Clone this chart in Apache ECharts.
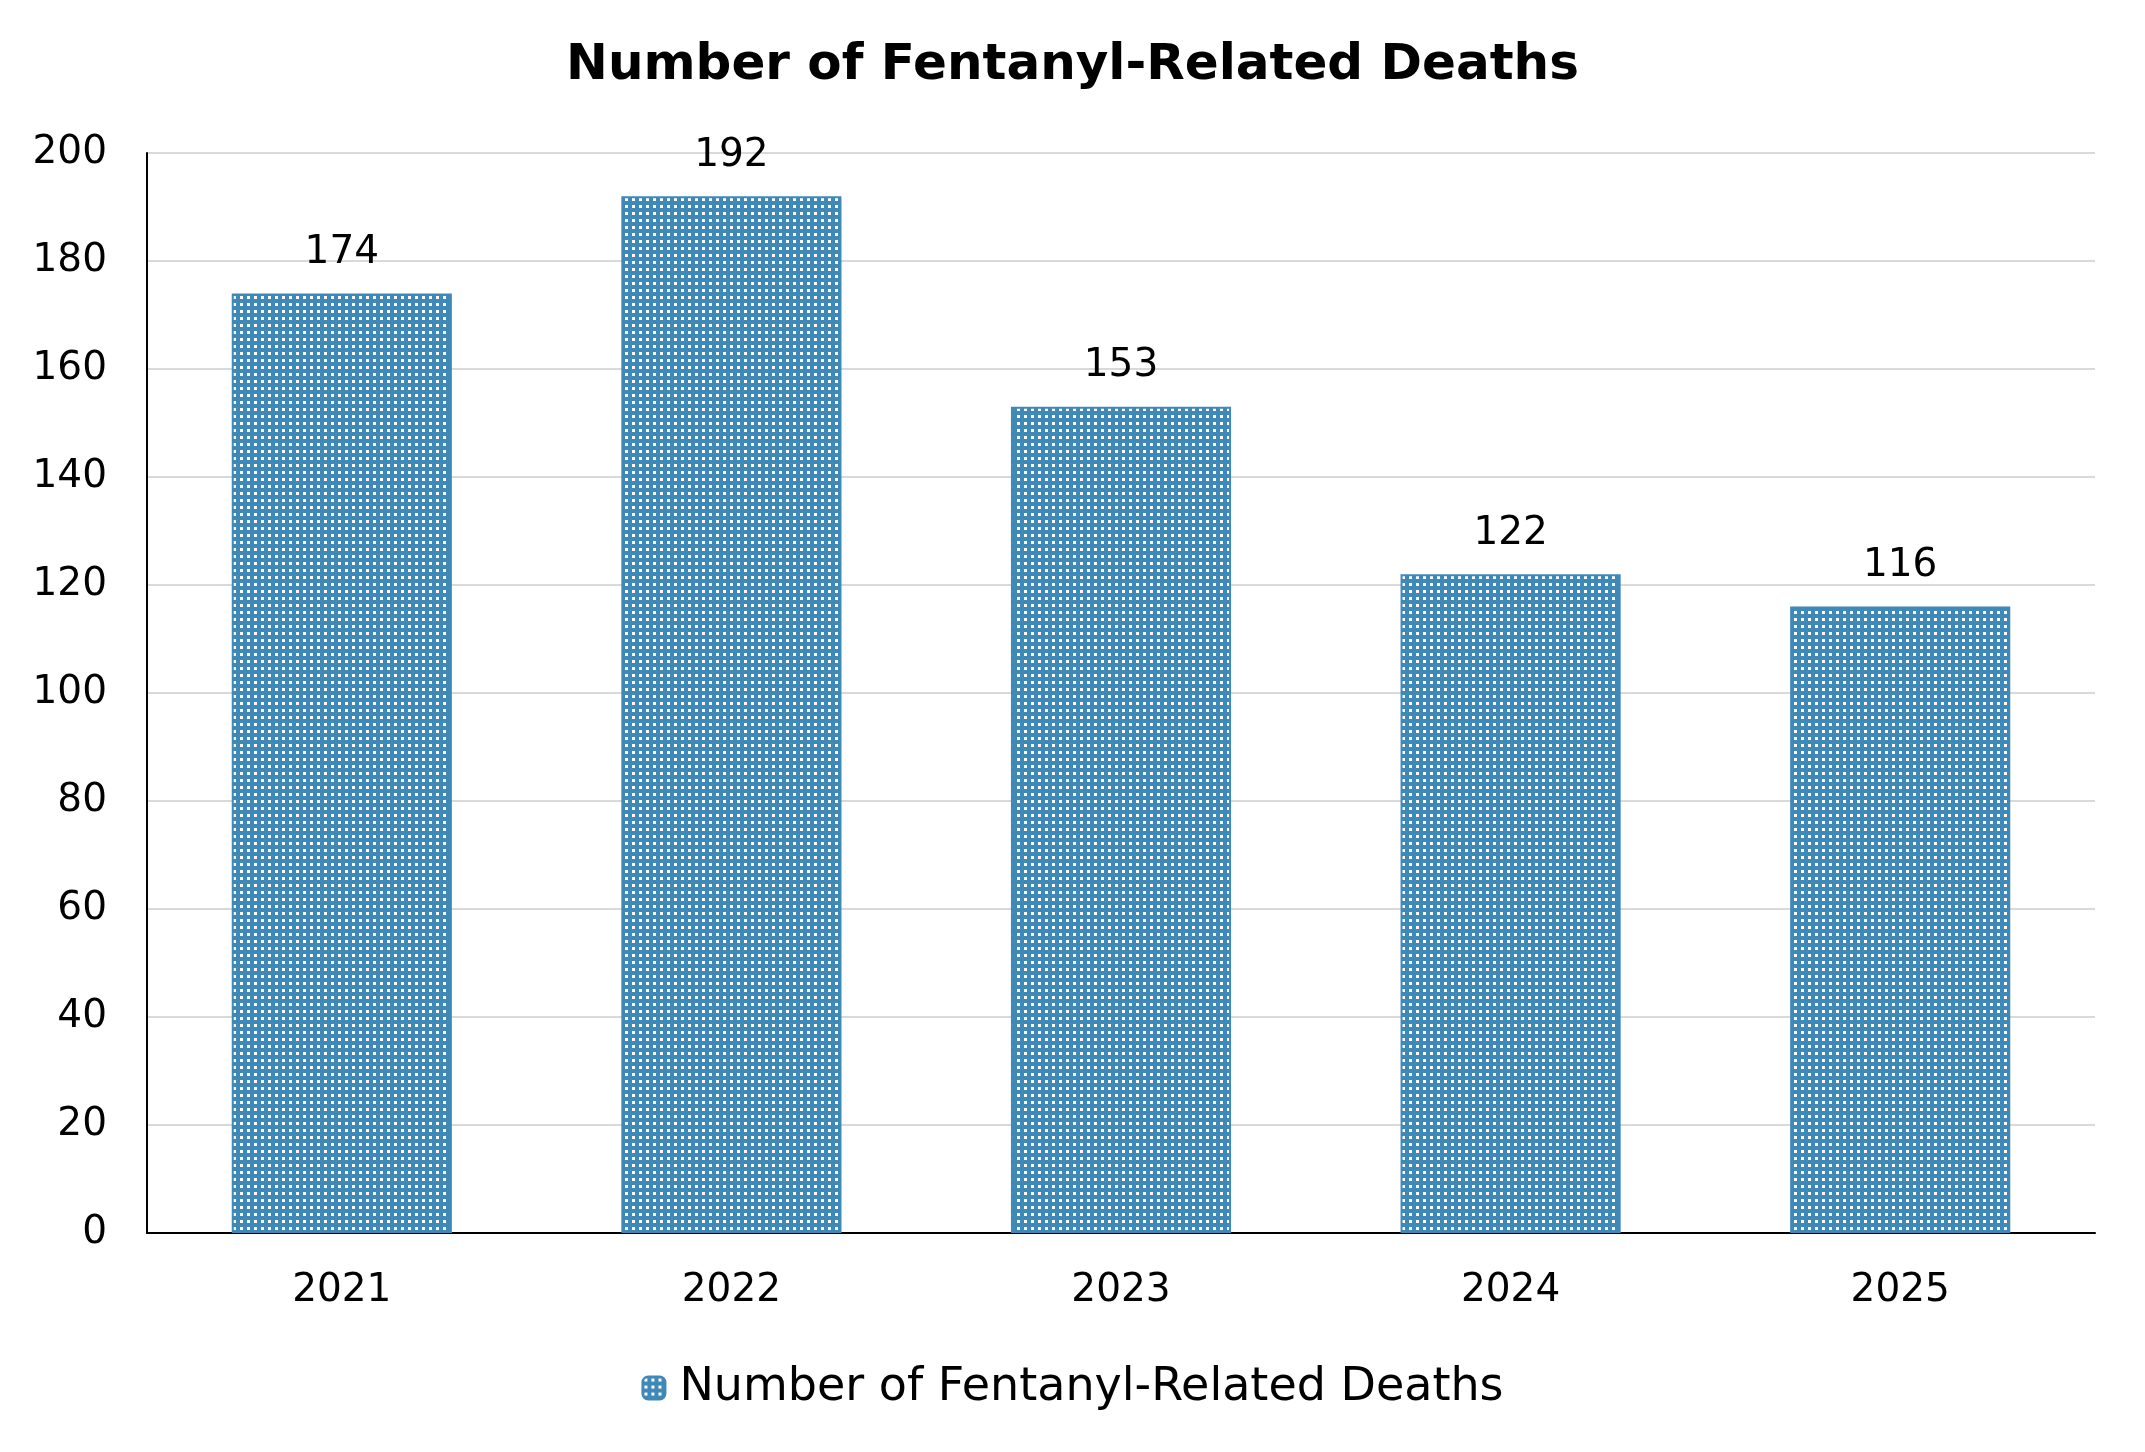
<!DOCTYPE html>
<html>
<head>
<meta charset="utf-8">
<title>Number of Fentanyl-Related Deaths</title>
<script src="https://cdn.jsdelivr.net/npm/echarts@6/dist/echarts.min.js"></script>
<style>
  html, body { margin: 0; padding: 0; background: #fff; }
  #chart { width: 2145px; height: 1452px; }
</style>
</head>
<body>
<div id="chart"></div>
<script>
// data
var years = ['2021', '2022', '2023', '2024', '2025'];
var deaths = [174, 192, 153, 122, 116];
var seriesName = 'Number of Fentanyl-Related Deaths';

// dotted fill: blue with small white squares
function makePattern() {
    var c = document.createElement('canvas');
    c.width = 7;
    c.height = 7;
    var ctx = c.getContext('2d');
    ctx.fillStyle = '#3F89B8';
    ctx.fillRect(0, 0, 7, 7);
    ctx.fillStyle = '#ffffff';
    ctx.fillRect(2, 2, 3, 3);
    return c;
}
var pattern = { image: makePattern(), repeat: 'repeat' };

var font = 'DejaVu Sans, Verdana, sans-serif';
var myChart = echarts.init(document.getElementById('chart'));
var option = {
    backgroundColor: '#ffffff',
    animation: false,
    title: {
        text: 'Number of Fentanyl-Related Deaths',
        left: 'center',
        top: 36,
        textStyle: { fontFamily: font, fontSize: 50, fontWeight: 'bold', color: '#000' }
    },
    legend: {
        data: [seriesName],
        bottom: 36,
        left: 'center',
        itemWidth: 23,
        itemHeight: 23,
        textStyle: { fontFamily: font, fontSize: 46, color: '#000', padding: [0, 0, 0, 9] }
    },
    grid: { left: 147, right: 50, top: 153, bottom: 219 },
    xAxis: {
        type: 'category',
        data: years,
        axisLine: { lineStyle: { color: '#000', width: 2 } },
        axisTick: { show: false },
        axisLabel: { fontFamily: font, fontSize: 39, color: '#000', margin: 38 }
    },
    yAxis: {
        type: 'value',
        min: 0,
        max: 200,
        interval: 20,
        axisLine: { show: true, lineStyle: { color: '#000', width: 2 } },
        axisTick: { show: false },
        axisLabel: { fontFamily: font, fontSize: 39, color: '#000', margin: 40, padding: [6, 0, 0, 0] },
        splitLine: { lineStyle: { color: '#d9d9d9', width: 2 } }
    },
    series: [
        {
            name: seriesName,
            type: 'bar',
            data: deaths,
            barWidth: '56.5%',
            itemStyle: { color: pattern, borderColor: '#3F89B8', borderWidth: 2 },
            label: {
                show: true,
                position: 'top',
                distance: 21,
                fontFamily: font,
                fontSize: 39,
                color: '#000'
            }
        }
    ]
};
myChart.setOption(option);
</script>
</body>
</html>
